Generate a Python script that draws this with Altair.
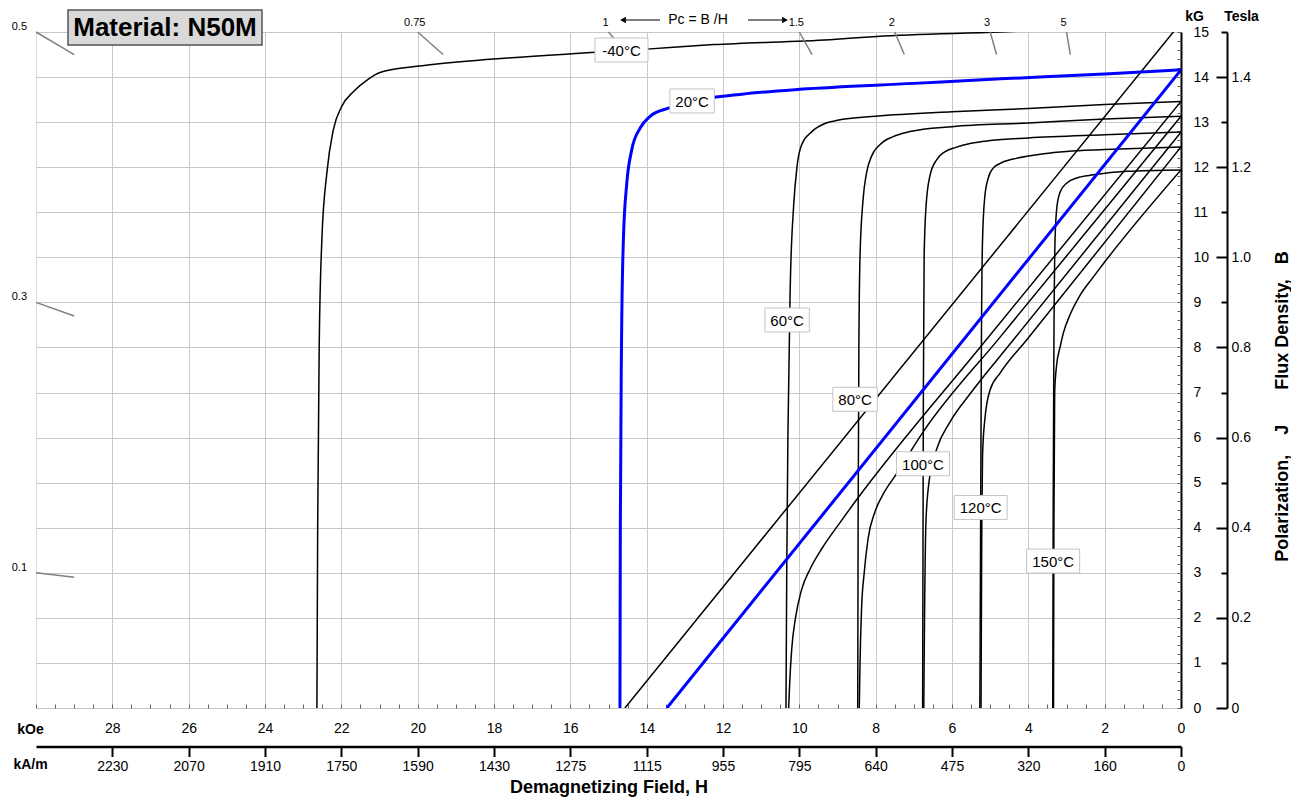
import altair as alt
import pandas as pd

# ---------------- data ----------------
TEMPS = ["-40°C", "20°C", "60°C", "80°C", "100°C", "120°C", "150°C"]

# intrinsic (polarization J) curves: H in kOe, J in kG
J_M40_H = [0, 2, 4.74, 7.97, 9.2, 12.25, 14.0, 15.31, 18.02, 20.02, 20.99, 21.3, 21.68, 21.99, 22.21, 22.38, 22.51, 22.58, 22.62, 22.64]
J_M40_B = [15.19, 15.10, 15.0, 14.90, 14.83, 14.72, 14.62, 14.55, 14.40, 14.24, 14.10, 13.95, 13.68, 13.35, 12.83, 11.87, 10.39, 8.0, 4.0, 0]
J_20_H = [0, 2, 4.72, 7, 9.98, 11.5, 12.8, 13.43, 13.91, 14.17, 14.39, 14.52, 14.61, 14.66, 14.69, 14.70]
J_20_B = [14.16, 14.07, 13.96, 13.86, 13.73, 13.62, 13.47, 13.31, 13.13, 12.87, 12.39, 11.65, 10.39, 8.0, 4.0, 0]
J_60_H = [0, 2, 4, 6, 8, 9.0, 9.3, 9.67, 9.94, 10.06, 10.15, 10.24, 10.30, 10.33, 10.35]
J_60_B = [13.46, 13.39, 13.30, 13.23, 13.13, 13.04, 12.98, 12.79, 12.50, 12.02, 11.13, 9.28, 6.0, 3.0, 0]
J_80_H = [0, 2, 4, 6, 7.1, 7.54, 7.89, 8.11, 8.24, 8.33, 8.41, 8.44, 8.46, 8.47]
J_80_B = [13.13, 13.07, 12.98, 12.90, 12.79, 12.68, 12.50, 12.24, 11.87, 11.28, 10.02, 7.99, 4.0, 0]
J_100_H = [0, 2, 4, 5.0, 5.5, 5.9, 6.19, 6.40, 6.58, 6.68, 6.73, 6.75, 6.76, 6.77]
J_100_B = [12.78, 12.72, 12.65, 12.59, 12.53, 12.44, 12.34, 12.17, 11.80, 11.13, 10.02, 7.0, 3.5, 0]
J_120_H = [0, 2, 3, 3.6, 4.0, 4.4, 4.75, 4.92, 5.05, 5.14, 5.20, 5.23, 5.25, 5.27]
J_120_B = [12.45, 12.39, 12.35, 12.30, 12.25, 12.18, 12.08, 11.98, 11.76, 11.35, 10.39, 8.0, 4.0, 0]
J_150_H = [0, 1.42, 2.29, 2.73, 2.99, 3.16, 3.25, 3.30, 3.33, 3.35, 3.36]
J_150_B = [11.94, 11.91, 11.83, 11.76, 11.65, 11.46, 11.13, 10.39, 8.0, 4.0, 0]

# normal (flux density B) curves
B_M40_H = [0, 14.57]
B_M40_B = [15.21, 0]
B_20_H = [0, 13.47]
B_20_B = [14.16, 0]
B_60_H = [0, 5.22, 8.5, 8.93, 9.4, 9.72, 9.95, 10.1, 10.2, 10.25, 10.28]
B_60_B = [13.46, 8.05, 4.62, 4.12, 3.55, 3.08, 2.6, 2.0, 1.3, 0.6, 0]
B_80_H = [0, 4.74, 6.76, 7.45, 7.8, 8.02, 8.2, 8.3, 8.37, 8.41, 8.43]
B_80_B = [13.13, 8.23, 6.12, 5.2, 4.75, 4.35, 3.75, 3.0, 2.2, 1.0, 0]
B_100_H = [0, 4.39, 5.5, 6.05, 6.40, 6.58, 6.68, 6.72, 6.74]
B_100_B = [12.78, 8.17, 7.0, 6.35, 5.75, 5.15, 4.2, 2.0, 0]
B_120_H = [0, 4.04, 4.74, 5.0, 5.14, 5.20, 5.22, 5.24]
B_120_B = [12.45, 8.17, 7.43, 7.06, 6.40, 5.6, 4.0, 0]
B_150_H = [0, 2.30, 2.65, 2.91, 3.08, 3.17, 3.26, 3.31, 3.33, 3.34]
B_150_B = [11.94, 9.56, 9.15, 8.72, 8.33, 8.0, 7.6, 7.0, 4.0, 0]

# temperature label positions (H, B)
LABEL_H = [14.66, 12.81, 10.32, 8.54, 6.76, 5.25, 3.35]
LABEL_B = [14.60, 13.47, 8.61, 6.85, 5.42, 4.45, 3.26]

# permeance coefficient marks
PC_TOP = [0.75, 1, 1.5, 2, 3, 5]
PC_TOP_LABELS = ["0.75", "1", "1.5", "2", "3", "5"]
PC_LEFT = [0.5, 0.3, 0.1]
PC_LEFT_LABELS = ["0.5", "0.3", "0.1"]

# axis tick labels
KOE_TICKS = [0, 2, 4, 6, 8, 10, 12, 14, 16, 18, 20, 22, 24, 26, 28]
KAM_LABELS = ["0", "160", "320", "475", "640", "795", "955", "1115", "1275",
              "1430", "1590", "1750", "1910", "2070", "2230"]
KG_TICKS = list(range(0, 16))
TESLA_TICKS = [0, 2, 4, 6, 8, 10, 12, 14]
TESLA_LABELS = ["0", "0.2", "0.4", "0.6", "0.8", "1.0", "1.2", "1.4"]
TESLA_MINOR = [1, 3, 5, 7, 9, 11, 13, 15]

TITLE = ["Material: N50M"]

# ---------------- build tables ----------------
J_SETS = [(J_M40_H, J_M40_B), (J_20_H, J_20_B), (J_60_H, J_60_B), (J_80_H, J_80_B),
          (J_100_H, J_100_B), (J_120_H, J_120_B), (J_150_H, J_150_B)]
B_SETS = [(B_M40_H, B_M40_B), (B_20_H, B_20_B), (B_60_H, B_60_B), (B_80_H, B_80_B),
          (B_100_H, B_100_B), (B_120_H, B_120_B), (B_150_H, B_150_B)]
rows = []
for t, (hs, bs) in zip(TEMPS, J_SETS):
    for h, b in zip(hs, bs):
        rows.append({"temp": t, "curve": t + " J", "H": h, "B": b})
for t, (hs, bs) in zip(TEMPS, B_SETS):
    for h, b in zip(hs, bs):
        rows.append({"temp": t, "curve": t + " B", "H": h, "B": b})
curves = pd.DataFrame(rows)
black_df = curves[curves.temp != "20°C"]
blue_df = curves[curves.temp == "20°C"]

lab = pd.DataFrame({"text": TEMPS, "H": LABEL_H, "B": LABEL_B})
lab["path"] = [
    "M{a},-12H{b}V12H{a}Z".format(a=-(4.3 * len(s) + 5), b=4.3 * len(s) + 5) for s in TEMPS
]

def pc_rows(vals, texts):
    out = []
    for p, s in zip(vals, texts):
        b0 = min(15.0, p * 30.0)
        b1 = min(14.5, p * 29.0)
        out.append({"pc": s, "H0": b0 / p, "B0": b0, "H1": b1 / p, "B1": b1})
    return pd.DataFrame(out)

pc_top = pc_rows(PC_TOP, PC_TOP_LABELS)
pc_left = pc_rows(PC_LEFT, PC_LEFT_LABELS)
pc_all = pd.concat([pc_top, pc_left])

def lut(keys, labels):
    expr = "''"
    for k, l in zip(keys, labels):
        expr = "datum.value == {} ? '{}' : ({})".format(k, l, expr)
    return expr

# ---------------- chart ----------------
W, HT = 1145, 676
FONT = "Liberation Sans"
xs = alt.Scale(domain=[0, 30], reverse=True, nice=False, zero=False)
ys = alt.Scale(domain=[0, 15], nice=False, zero=False)

def X(field="H", axis=None):
    return alt.X(field + ":Q", scale=xs, axis=axis)

def Y(field="B", axis=None):
    return alt.Y(field + ":Q", scale=ys, axis=axis)

black_lines = alt.Chart(black_df).mark_line(
    color="black", strokeWidth=1.5, interpolate="monotone", clip=True
).encode(x=X(), y=Y(), detail="curve:N")

blue_lines = alt.Chart(blue_df).mark_line(
    color="#0000ff", strokeWidth=3, interpolate="monotone", clip=True
).encode(x=X(), y=Y(), detail="curve:N")

pc_ticks = alt.Chart(pc_all).mark_rule(color="#808080", strokeWidth=1.5).encode(
    x=X("H0"), y=Y("B0"), x2="H1:Q", y2="B1:Q"
)
pc_top_text = alt.Chart(pc_top).mark_text(
    font=FONT, fontSize=11, dy=-9, dx=-3, align="center", baseline="middle", color="black"
).encode(x=X("H0"), y=Y("B0"), text="pc:N")
pc_left_text = alt.Chart(pc_left).mark_text(
    font=FONT, fontSize=11, dx=-9, dy=-5, align="right", baseline="middle", color="black"
).encode(x=X("H0"), y=Y("B0"), text="pc:N")

boxes = alt.Chart(lab).mark_point(
    filled=True, fill="white", stroke="#c4c4c4", strokeWidth=1, size=4, opacity=1
).encode(x=X(), y=Y(), shape=alt.Shape("path:N", scale=None))
labels = alt.Chart(lab).mark_text(
    font=FONT, fontSize=15, color="black", align="center", baseline="middle", dy=1
).encode(x=X(), y=Y(), text="text:N")

# header "Pc = B/H" with arrows
hdr = pd.DataFrame({"t": ["Pc = B /H"]})
pc_header = alt.Chart(hdr).mark_text(
    font=FONT, fontSize=14, color="black", align="center", baseline="middle"
).encode(x=alt.value(662), y=alt.value(-12), text="t:N")
arrow_l = alt.Chart(hdr).mark_rule(color="black", strokeWidth=1.2).encode(
    x=alt.value(586), x2=alt.value(624), y=alt.value(-12))
arrow_r = alt.Chart(hdr).mark_rule(color="black", strokeWidth=1.2).encode(
    x=alt.value(712), x2=alt.value(750), y=alt.value(-12))
head_l = alt.Chart(hdr).mark_point(shape="triangle-left", filled=True, color="black", size=45, opacity=1).encode(
    x=alt.value(587), y=alt.value(-12))
head_r = alt.Chart(hdr).mark_point(shape="triangle-right", filled=True, color="black", size=45, opacity=1).encode(
    x=alt.value(749), y=alt.value(-12))

# material title box
tdf = pd.DataFrame({"t": TITLE})
title_box = alt.Chart(tdf).mark_rect(fill="#d9d9d9", stroke="#555555", strokeWidth=1.5).encode(
    x=alt.value(32), x2=alt.value(226), y=alt.value(-22), y2=alt.value(13))
title_txt = alt.Chart(tdf).mark_text(
    font=FONT, fontSize=26, fontWeight="bold", color="black", align="center", baseline="middle"
).encode(x=alt.value(129), y=alt.value(-4), text="t:N")

# ---------------- axes (carried by invisible layers) ----------------
def axis_layer(xaxis=None, yaxis=None):
    return alt.Chart(lab).mark_point(opacity=0, size=1).encode(
        x=X(axis=xaxis), y=Y(axis=yaxis))

ax_koe = axis_layer(xaxis=alt.Axis(
    orient="bottom", values=KOE_TICKS, grid=True, gridColor="#c8c8c8", gridWidth=1,
    tickSize=0, labelPadding=13, labelFontSize=14, labelFont=FONT, labelColor="black",
    labelFlush=False, labelOverlap=False, domain=False,
    title="kOe", titleFont=FONT, titleFontSize=14, titleFontWeight="bold", titleColor="black",
    titleAngle=0, titleX=-6, titleY=21, titleAlign="center", titleBaseline="middle"))
ax_koe_minor = axis_layer(xaxis=alt.Axis(
    orient="top", offset=-HT, values=[v / 2 for v in range(0, 61)], tickSize=4,
    tickColor="#606060", labels=False, domain=False, grid=False, title=""))
ax_kam = axis_layer(xaxis=alt.Axis(
    orient="bottom", offset=38.5, values=KOE_TICKS, labelExpr=lut(KOE_TICKS, KAM_LABELS),
    tickSize=10, tickWidth=2, tickColor="black", domainColor="black", domainWidth=2.5,
    labelPadding=3, labelFontSize=14, labelFont=FONT, labelColor="black", labelFlush=False,
    labelOverlap=False, grid=False,
    title="kA/m", titleFont=FONT, titleFontSize=14, titleFontWeight="bold", titleColor="black",
    titleAngle=0, titleX=-6, titleY=18, titleAlign="center", titleBaseline="middle"))
ax_htitle = axis_layer(xaxis=alt.Axis(
    orient="bottom", offset=38.5, values=[0], domain=False, ticks=False, labels=False, grid=False,
    title="Demagnetizing Field, H", titleFont=FONT, titleFontSize=18, titleFontWeight="bold",
    titleColor="black", titleY=40.5, titleBaseline="middle"))

ax_kg = axis_layer(yaxis=alt.Axis(
    orient="right", values=KG_TICKS, grid=True, gridColor="#c8c8c8", gridWidth=1,
    tickSize=0, labelPadding=12, labelFontSize=14, labelFont=FONT, labelColor="black",
    labelFlush=False, labelOverlap=False, domainColor="black", domainWidth=2,
    title="kG", titleFont=FONT, titleFontSize=14, titleFontWeight="bold", titleColor="black",
    titleAngle=0, titleX=13, titleY=-16, titleAlign="center", titleBaseline="middle"))
ax_kg_minor = axis_layer(yaxis=alt.Axis(
    orient="left", offset=-W, values=[v / 5 for v in range(0, 76)], tickSize=4,
    tickColor="#606060", labels=False, domain=False, grid=False, title=""))
NBSP = "\u00a0"
ax_tesla = axis_layer(yaxis=alt.Axis(
    orient="left", offset=-(W + 46), values=TESLA_TICKS, labelExpr=lut(TESLA_TICKS, TESLA_LABELS),
    tickSize=11, tickWidth=2, tickColor="black", domainColor="black", domainWidth=2,
    labelAlign="left", labelPadding=-15, labelFontSize=14, labelFont=FONT, labelColor="black",
    labelFlush=False, labelOverlap=False, grid=False,
    title="Polarization," + NBSP * 4 + "J" + NBSP * 7 + "Flux Density," + NBSP * 3 + "B",
    titleFont=FONT, titleFontSize=18, titleFontWeight="bold", titleColor="black",
    titleAngle=270, titleX=55, titleY=374, titleAlign="center", titleBaseline="middle"))
ax_tesla_minor = axis_layer(yaxis=alt.Axis(
    orient="left", offset=-(W + 46), values=TESLA_MINOR, tickSize=6, tickWidth=2,
    tickColor="black", labels=False, domain=False, grid=False,
    title="Tesla", titleFont=FONT, titleFontSize=14, titleFontWeight="bold", titleColor="black",
    titleAngle=0, titleX=14, titleY=-16, titleAlign="center", titleBaseline="middle"))

chart = alt.layer(
    ax_koe, ax_koe_minor, ax_kam, ax_htitle,
    ax_kg, ax_kg_minor, ax_tesla, ax_tesla_minor,
    black_lines, blue_lines, pc_ticks, pc_top_text, pc_left_text,
    boxes, labels, pc_header, arrow_l, arrow_r, head_l, head_r,
    title_box, title_txt,
).resolve_axis(x="independent", y="independent").properties(
    width=W, height=HT,
    autosize=alt.AutoSizeParams(type="none"),
    padding={"left": 28, "top": 24, "right": 110, "bottom": 90}
).configure_view(stroke="black", strokeWidth=2).configure(background="white")

chart.save("out.html", embed_options={"renderer": "svg", "actions": False})
